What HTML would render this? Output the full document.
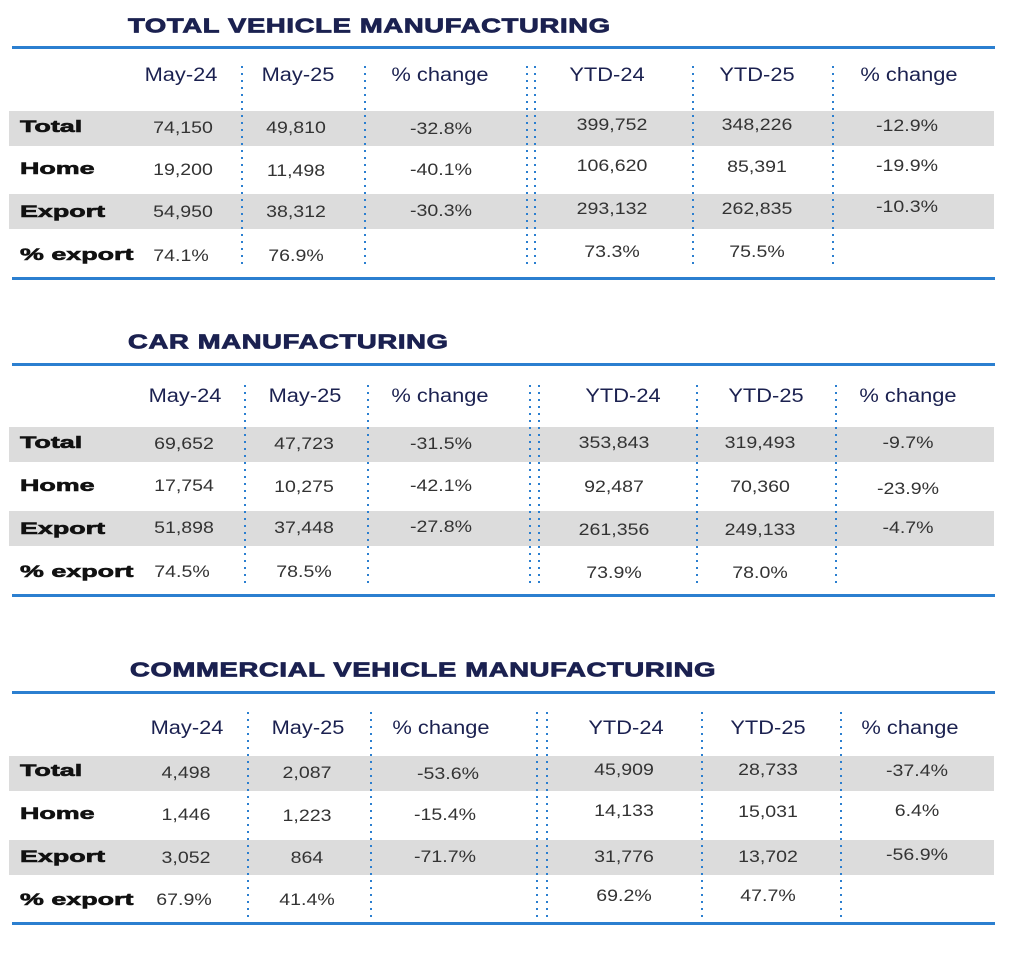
<!DOCTYPE html>
<html><head><meta charset="utf-8"><style>
body{margin:0;width:1024px;height:969px;background:#fff;position:relative;overflow:hidden;font-family:"Liberation Sans",sans-serif;color:#333}
.t{position:absolute;font-weight:900;color:#1b2150;font-size:20px;letter-spacing:0.5px;transform:translateY(-50%) scaleX(1.37);transform-origin:left center;-webkit-text-stroke:0.8px #1b2150;white-space:nowrap}
.ln{position:absolute;left:12px;width:983px;height:3px;background:#2b7fd0}
.band{position:absolute;left:9px;width:985px;height:35px;background:#dcdcdc}
.c{position:absolute;transform:translate(-50%,-50%) scaleX(1.15);white-space:nowrap;font-size:17px}
.h{color:#1b2150;font-size:19px}
.l{position:absolute;transform:translateY(-50%) scaleX(1.58);transform-origin:left center;left:20px;font-weight:900;font-size:17px;color:#111;-webkit-text-stroke:0.6px #111;white-space:nowrap}
.d{position:absolute;width:2px;margin-left:-1px;background:repeating-linear-gradient(to bottom,#2b7fd0 0 2px,transparent 2px 7px)}
</style></head><body>

<!-- TABLE 1 -->
<div class="t" style="left:128px;top:27px">TOTAL VEHICLE MANUFACTURING</div>
<div class="ln" style="top:46px"></div>
<div class="band" style="top:111px"></div>
<div class="band" style="top:194px"></div>
<div class="d" style="left:242px;top:66px;height:200px"></div>
<div class="d" style="left:365px;top:66px;height:200px"></div>
<div class="d" style="left:527px;top:66px;height:200px"></div>
<div class="d" style="left:535px;top:66px;height:200px"></div>
<div class="d" style="left:693px;top:66px;height:200px"></div>
<div class="d" style="left:833px;top:66px;height:200px"></div>
<div class="c h" style="left:181px;top:76px">May-24</div>
<div class="c h" style="left:298px;top:76px">May-25</div>
<div class="c h" style="left:440px;top:76px">% change</div>
<div class="c h" style="left:607px;top:76px">YTD-24</div>
<div class="c h" style="left:757px;top:76px">YTD-25</div>
<div class="c h" style="left:909px;top:76px">% change</div>
<div class="l" style="top:127px">Total</div>
<div class="c" style="left:183px;top:128px">74,150</div><div class="c" style="left:296px;top:128px">49,810</div><div class="c" style="left:441px;top:129px">-32.8%</div><div class="c" style="left:612px;top:125px">399,752</div><div class="c" style="left:757px;top:125px">348,226</div><div class="c" style="left:907px;top:126px">-12.9%</div>
<div class="l" style="top:169px">Home</div>
<div class="c" style="left:183px;top:170px">19,200</div><div class="c" style="left:296px;top:171px">11,498</div><div class="c" style="left:441px;top:170px">-40.1%</div><div class="c" style="left:612px;top:166px">106,620</div><div class="c" style="left:757px;top:167px">85,391</div><div class="c" style="left:907px;top:166px">-19.9%</div>
<div class="l" style="top:212px">Export</div>
<div class="c" style="left:183px;top:212px">54,950</div><div class="c" style="left:296px;top:212px">38,312</div><div class="c" style="left:441px;top:211px">-30.3%</div><div class="c" style="left:612px;top:209px">293,132</div><div class="c" style="left:757px;top:209px">262,835</div><div class="c" style="left:907px;top:207px">-10.3%</div>
<div class="l" style="top:255px">% export</div>
<div class="c" style="left:181px;top:256px">74.1%</div><div class="c" style="left:296px;top:256px">76.9%</div><div class="c" style="left:612px;top:252px">73.3%</div><div class="c" style="left:757px;top:252px">75.5%</div>
<div class="ln" style="top:277px"></div>

<!-- TABLE 2 -->
<div class="t" style="left:128px;top:343px">CAR MANUFACTURING</div>
<div class="ln" style="top:363px"></div>
<div class="band" style="top:427px"></div>
<div class="band" style="top:511px"></div>
<div class="d" style="left:245px;top:385px;height:200px"></div>
<div class="d" style="left:368px;top:385px;height:200px"></div>
<div class="d" style="left:530px;top:385px;height:200px"></div>
<div class="d" style="left:539px;top:385px;height:200px"></div>
<div class="d" style="left:697px;top:385px;height:200px"></div>
<div class="d" style="left:836px;top:385px;height:200px"></div>
<div class="c h" style="left:185px;top:397px">May-24</div>
<div class="c h" style="left:305px;top:397px">May-25</div>
<div class="c h" style="left:440px;top:397px">% change</div>
<div class="c h" style="left:623px;top:397px">YTD-24</div>
<div class="c h" style="left:766px;top:397px">YTD-25</div>
<div class="c h" style="left:908px;top:397px">% change</div>
<div class="l" style="top:443px">Total</div>
<div class="c" style="left:184px;top:444px">69,652</div><div class="c" style="left:304px;top:444px">47,723</div><div class="c" style="left:441px;top:444px">-31.5%</div><div class="c" style="left:614px;top:443px">353,843</div><div class="c" style="left:760px;top:443px">319,493</div><div class="c" style="left:908px;top:443px">-9.7%</div>
<div class="l" style="top:486px">Home</div>
<div class="c" style="left:184px;top:486px">17,754</div><div class="c" style="left:304px;top:487px">10,275</div><div class="c" style="left:441px;top:486px">-42.1%</div><div class="c" style="left:614px;top:487px">92,487</div><div class="c" style="left:760px;top:487px">70,360</div><div class="c" style="left:908px;top:489px">-23.9%</div>
<div class="l" style="top:529px">Export</div>
<div class="c" style="left:184px;top:528px">51,898</div><div class="c" style="left:304px;top:528px">37,448</div><div class="c" style="left:441px;top:527px">-27.8%</div><div class="c" style="left:614px;top:530px">261,356</div><div class="c" style="left:760px;top:530px">249,133</div><div class="c" style="left:908px;top:528px">-4.7%</div>
<div class="l" style="top:572px">% export</div>
<div class="c" style="left:182px;top:572px">74.5%</div><div class="c" style="left:304px;top:572px">78.5%</div><div class="c" style="left:614px;top:573px">73.9%</div><div class="c" style="left:760px;top:573px">78.0%</div>
<div class="ln" style="top:594px"></div>

<!-- TABLE 3 -->
<div class="t" style="left:130px;top:671px">COMMERCIAL VEHICLE MANUFACTURING</div>
<div class="ln" style="top:691px"></div>
<div class="band" style="top:756px"></div>
<div class="band" style="top:840px"></div>
<div class="d" style="left:248px;top:712px;height:205px"></div>
<div class="d" style="left:371px;top:712px;height:205px"></div>
<div class="d" style="left:537px;top:712px;height:205px"></div>
<div class="d" style="left:547px;top:712px;height:205px"></div>
<div class="d" style="left:702px;top:712px;height:205px"></div>
<div class="d" style="left:841px;top:712px;height:205px"></div>
<div class="c h" style="left:187px;top:729px">May-24</div>
<div class="c h" style="left:308px;top:729px">May-25</div>
<div class="c h" style="left:441px;top:729px">% change</div>
<div class="c h" style="left:626px;top:729px">YTD-24</div>
<div class="c h" style="left:768px;top:729px">YTD-25</div>
<div class="c h" style="left:910px;top:729px">% change</div>
<div class="l" style="top:771px">Total</div>
<div class="c" style="left:186px;top:773px">4,498</div><div class="c" style="left:307px;top:773px">2,087</div><div class="c" style="left:448px;top:774px">-53.6%</div><div class="c" style="left:624px;top:770px">45,909</div><div class="c" style="left:768px;top:770px">28,733</div><div class="c" style="left:917px;top:771px">-37.4%</div>
<div class="l" style="top:814px">Home</div>
<div class="c" style="left:186px;top:815px">1,446</div><div class="c" style="left:307px;top:816px">1,223</div><div class="c" style="left:445px;top:815px">-15.4%</div><div class="c" style="left:624px;top:811px">14,133</div><div class="c" style="left:768px;top:812px">15,031</div><div class="c" style="left:917px;top:811px">6.4%</div>
<div class="l" style="top:857px">Export</div>
<div class="c" style="left:186px;top:858px">3,052</div><div class="c" style="left:307px;top:858px">864</div><div class="c" style="left:445px;top:857px">-71.7%</div><div class="c" style="left:624px;top:857px">31,776</div><div class="c" style="left:768px;top:857px">13,702</div><div class="c" style="left:917px;top:855px">-56.9%</div>
<div class="l" style="top:900px">% export</div>
<div class="c" style="left:184px;top:900px">67.9%</div><div class="c" style="left:307px;top:900px">41.4%</div><div class="c" style="left:624px;top:896px">69.2%</div><div class="c" style="left:768px;top:896px">47.7%</div>
<div class="ln" style="top:922px"></div>
</body></html>
